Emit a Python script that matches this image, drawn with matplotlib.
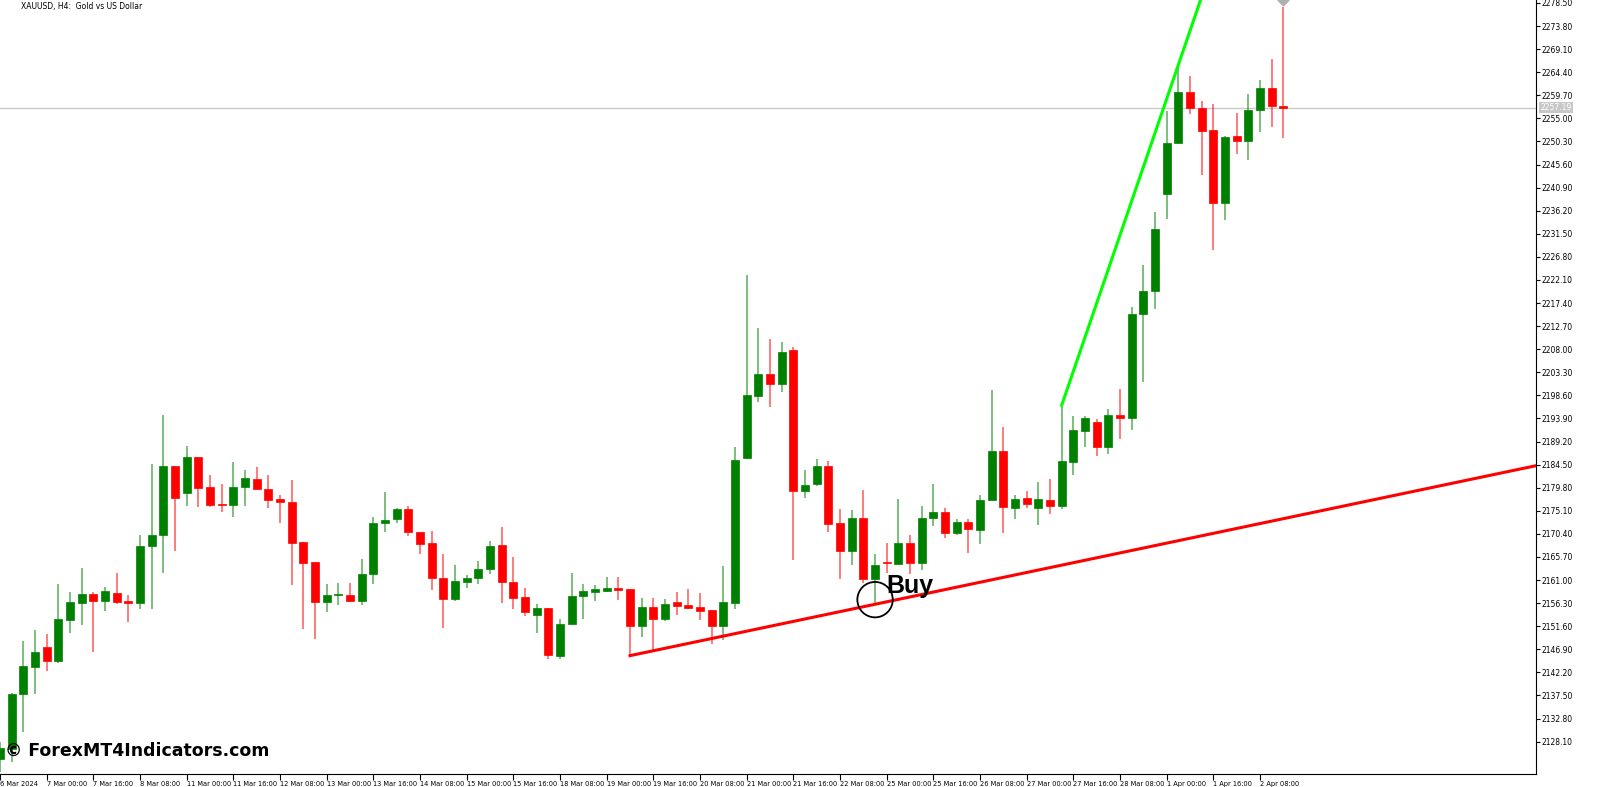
import numpy as np
import matplotlib
matplotlib.use('Agg')
import matplotlib.pyplot as plt

# XAUUSD H4 candles (bar index 0 = 6 Mar 2024 08:00)
opens = [2124.5, 2126.6, 2137.7, 2143.2, 2147.3, 2144.6, 2152.9, 2156.3, 2158.2, 2156.8,
         2158.4, 2156.5, 2156.3, 2167.9, 2170.1, 2184.2, 2178.7, 2186.0, 2179.9, 2176.5,
         2176.3, 2180.0, 2181.5, 2179.6, 2177.4, 2176.9, 2168.7, 2164.7, 2156.5, 2157.9,
         2158.0, 2156.8, 2162.3, 2172.7, 2173.4, 2175.5, 2170.7, 2168.5, 2161.5, 2157.2,
         2160.6, 2161.4, 2163.2, 2168.1, 2160.6, 2157.5, 2153.8, 2155.3, 2145.6, 2152.0,
         2157.7, 2158.6, 2158.7, 2159.4, 2159.1, 2151.6, 2155.5, 2153.1, 2156.5, 2155.9,
         2155.5, 2154.8, 2151.7, 2156.4, 2185.9, 2198.5, 2202.9, 2201.0, 2207.8, 2179.1,
         2180.6, 2184.2, 2172.6, 2166.9, 2173.6, 2161.3, 2164.6, 2164.3, 2168.5, 2164.5,
         2173.6, 2174.9, 2170.5, 2172.9, 2171.2, 2177.3, 2187.2, 2175.7, 2177.6, 2175.6,
         2177.3, 2176.1, 2185.1, 2191.4, 2193.1, 2188.1, 2194.7, 2193.9, 2215.1, 2219.8,
         2239.6, 2250.0, 2260.4, 2257.2, 2252.6, 2237.8, 2251.5, 2250.4, 2256.7, 2261.1,
         2257.6]
highs = [2128.0, 2137.9, 2148.5, 2150.9, 2150.0, 2160.2, 2158.5, 2163.5, 2158.5, 2159.6,
         2162.4, 2157.9, 2170.1, 2184.7, 2194.7, 2184.2, 2188.3, 2186.0, 2182.3, 2180.6,
         2185.0, 2183.4, 2184.1, 2182.3, 2178.3, 2181.3, 2168.7, 2164.7, 2160.2, 2160.3,
         2160.3, 2165.2, 2173.8, 2179.0, 2175.7, 2176.0, 2170.8, 2171.0, 2166.2, 2164.0,
         2162.0, 2164.8, 2169.0, 2171.7, 2165.6, 2159.3, 2156.1, 2155.3, 2153.1, 2162.5,
         2160.1, 2159.9, 2161.7, 2161.7, 2159.1, 2157.4, 2157.4, 2157.2, 2158.5, 2159.1,
         2158.3, 2154.8, 2163.9, 2188.1, 2223.1, 2212.4, 2210.0, 2209.5, 2208.5, 2183.3,
         2185.6, 2185.2, 2175.4, 2175.3, 2179.4, 2166.2, 2168.5, 2177.5, 2170.1, 2176.1,
         2180.6, 2175.6, 2173.4, 2173.4, 2178.3, 2199.6, 2192.2, 2178.3, 2179.2, 2180.9,
         2181.5, 2196.6, 2194.4, 2194.4, 2193.7, 2195.9, 2199.8, 2216.5, 2225.1, 2235.9,
         2256.5, 2265.2, 2263.6, 2258.5, 2257.9, 2251.4, 2256.0, 2260.0, 2262.9, 2267.0,
         2277.6]
lows = [2122.0, 2124.0, 2130.0, 2137.7, 2142.5, 2144.0, 2150.2, 2151.8, 2146.3, 2154.6,
        2156.2, 2152.4, 2155.0, 2155.0, 2162.5, 2167.0, 2176.1, 2175.9, 2175.8, 2174.9,
        2173.9, 2176.1, 2179.4, 2175.7, 2172.6, 2159.9, 2151.1, 2149.0, 2154.4, 2155.9,
        2156.5, 2156.0, 2160.1, 2170.7, 2172.7, 2170.0, 2166.2, 2159.0, 2151.2, 2156.7,
        2159.4, 2160.2, 2162.3, 2156.3, 2155.1, 2153.6, 2150.3, 2144.9, 2144.9, 2152.0,
        2153.1, 2156.7, 2158.5, 2157.0, 2145.6, 2149.3, 2146.8, 2152.7, 2153.8, 2155.1,
        2152.9, 2148.0, 2148.8, 2155.1, 2185.7, 2197.3, 2196.2, 2199.2, 2165.1, 2177.6,
        2180.1, 2170.7, 2161.3, 2164.0, 2160.4, 2156.0, 2162.5, 2164.3, 2162.3, 2163.0,
        2171.9, 2169.6, 2170.1, 2166.5, 2168.4, 2177.3, 2170.5, 2173.5, 2175.6, 2172.3,
        2174.5, 2175.4, 2182.3, 2188.1, 2186.2, 2186.6, 2189.8, 2191.5, 2201.4, 2216.1,
        2234.6, 2250.0, 2255.8, 2243.5, 2228.2, 2234.4, 2247.7, 2246.6, 2252.2, 2253.3,
        2250.9]
closes = [2126.7, 2137.8, 2143.4, 2146.4, 2144.6, 2153.1, 2156.5, 2158.2, 2156.8, 2158.7,
          2156.5, 2156.4, 2167.9, 2170.1, 2184.2, 2177.6, 2186.0, 2179.8, 2176.3, 2176.3,
          2180.0, 2181.8, 2179.6, 2177.3, 2176.8, 2168.6, 2164.5, 2156.6, 2157.9, 2158.0,
          2156.7, 2162.3, 2172.7, 2173.3, 2175.5, 2170.7, 2168.4, 2161.4, 2157.2, 2160.8,
          2161.5, 2163.3, 2167.9, 2160.5, 2157.4, 2154.4, 2155.2, 2145.7, 2152.1, 2157.8,
          2158.7, 2159.1, 2159.4, 2158.9, 2151.6, 2155.5, 2153.1, 2156.1, 2155.8, 2155.4,
          2154.6, 2151.7, 2156.5, 2185.5, 2198.6, 2202.9, 2201.0, 2207.4, 2179.1, 2180.4,
          2184.2, 2172.5, 2166.9, 2173.6, 2161.3, 2164.1, 2164.5, 2168.5, 2164.5, 2173.6,
          2174.8, 2170.5, 2172.9, 2171.3, 2177.3, 2187.2, 2175.8, 2177.5, 2176.5, 2177.5,
          2176.1, 2185.2, 2191.5, 2193.9, 2188.1, 2194.7, 2193.9, 2215.1, 2219.8, 2232.5,
          2250.0, 2260.4, 2257.2, 2252.5, 2237.8, 2251.3, 2250.4, 2256.7, 2261.1, 2257.6,
          2257.19]

tick_labels = ['6 Mar 2024', '7 Mar 00:00', '7 Mar 16:00', '8 Mar 08:00', '11 Mar 00:00',
               '11 Mar 16:00', '12 Mar 08:00', '13 Mar 00:00', '13 Mar 16:00', '14 Mar 08:00',
               '15 Mar 00:00', '15 Mar 16:00', '18 Mar 08:00', '19 Mar 00:00', '19 Mar 16:00',
               '20 Mar 08:00', '21 Mar 00:00', '21 Mar 16:00', '22 Mar 08:00', '25 Mar 00:00',
               '25 Mar 16:00', '26 Mar 08:00', '27 Mar 00:00', '27 Mar 16:00', '28 Mar 08:00',
               '1 Apr 00:00', '1 Apr 16:00', '2 Apr 08:00']
price_ticks = [2128.10 + 4.7 * k for k in range(33)]

# trend lines (bar index, price)
red_line = [(54, 2145.6), (131.7, 2184.3)]
green_line = [(91, 2196.6), (102.9, 2279.1)]
buy_bar, buy_price = 75, 2157.0
last_price = 2257.19

ymin, ymax = 2121.5, 2279.1

fig = plt.figure(figsize=(16, 7.87), dpi=100)
ax = fig.add_axes([0, 1 - 774 / 787, 1536 / 1600, 774 / 787])
ax.set_xlim(0, 131.65)
ax.set_ylim(ymin, ymax)

green, red = '#008000', '#ff0000'
for i, (o, h, l, c) in enumerate(zip(opens, highs, lows, closes)):
    col = green if c >= o else red
    ax.vlines(i, l, h, color=col, lw=1.2, alpha=0.6, zorder=2)
    body = max(abs(c - o), 0.25)
    ax.bar(i, body, bottom=min(o, c), width=0.68, color=col, edgecolor=col,
           linewidth=0.5, zorder=3)

# current price line
ax.axhline(last_price, color='#c8c8c8', lw=1, zorder=1)

# trend lines
ax.plot([p[0] for p in red_line], [p[1] for p in red_line], color='#ff0000', lw=2.2, zorder=4)
slope = (green_line[1][1] - green_line[0][1]) / (green_line[1][0] - green_line[0][0])
gx_end = green_line[1][0] + 3
ax.plot([green_line[0][0], gx_end], [green_line[0][1], green_line[0][1] + slope * (gx_end - green_line[0][0])],
        color='#00ff00', lw=2.2, zorder=4)

# buy signal
ax.scatter([buy_bar], [buy_price], s=650, facecolors='none', edgecolors='black',
           linewidths=1.3, zorder=5)
ax.text(buy_bar + 1.0, buy_price + 0.3, 'Buy', fontsize=18, fontweight='bold',
        family=['Liberation Sans', 'DejaVu Sans'], color='black', ha='left', va='bottom', zorder=6)

# high marker on last bar
ax.scatter([len(opens) - 1], [2279.0], marker='D', s=30, color='#b0b0b0', zorder=5)

# axes styling
for s in ['top', 'left']:
    ax.spines[s].set_visible(False)
ax.yaxis.tick_right()
ax.set_yticks(price_ticks)
ax.set_yticklabels([f'{v:.2f}' for v in price_ticks], fontsize=5.5)
ax.tick_params(axis='y', length=3, pad=1)
ax.set_xticks(range(0, 4 * len(tick_labels), 4))
ax.set_xticklabels(tick_labels, fontsize=4.8, ha='left')
ax.tick_params(axis='x', length=4, pad=1)

# price label on axis
ax.text(1.003, (last_price - ymin) / (ymax - ymin), f'{last_price:.2f}',
        transform=ax.transAxes, fontsize=5.5, color='white', va='center', ha='left',
        bbox=dict(boxstyle='square,pad=0.15', fc='#c8c8c8', ec='none'))

fig.text(0.013, 1 - 7 / 787, 'XAUUSD, H4:  Gold vs US Dollar', fontsize=5.5, va='center')
fig.text(0.003, 1 - 751 / 787, '© ForexMT4Indicators.com', fontsize=12.5, fontweight='bold',
         va='center', color='black')

fig.savefig('out.png', dpi=100)
